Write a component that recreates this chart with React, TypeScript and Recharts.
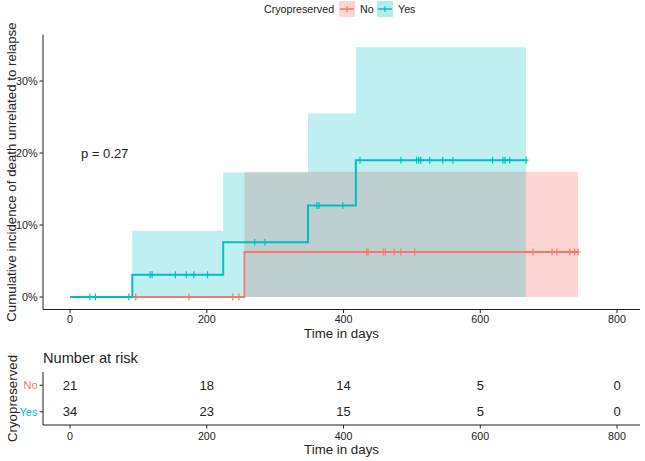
import React from "react";
import {
  ComposedChart,
  ScatterChart,
  Line,
  Area,
  Scatter,
  XAxis,
  YAxis,
  Legend,
  ReferenceDot,
} from "recharts";

// ---------- data ----------
const xTicks = [0, 200, 400, 600, 800];
const yTicks = [0, 10, 20, 30];
const groups = ["No", "Yes"];

// cumulative incidence (%) step functions
const yesDays = [0, 91, 224, 348, 418, 667];
const yesInc = [0, 3.1, 7.6, 12.7, 19.0, 19.0];
const yesUpper = [0, 9.2, 17.3, 25.5, 34.7, 34.7];

const noDays = [0, 255, 743];
const noInc = [0, 6.25, 6.25];
const noUpper = [0, 17.4, 17.4];

// censoring times (days)
const yesCensorDays = [
  29, 37, 86, 117, 120, 154, 170, 181, 201, 270, 285, 361, 364, 399, 424, 484,
  507, 510, 513, 526, 545, 560, 618, 633, 636, 643, 667,
];
const noCensorDays = [
  96, 174, 238, 247, 434, 436, 458, 461, 474, 484, 504, 677, 705, 712, 731,
  738, 743,
];

// number at risk
const riskDays = [0, 200, 400, 600, 800];
const noRisk = [21, 18, 14, 5, 0];
const yesRisk = [34, 23, 15, 5, 0];

const pValueText = "p = 0.27";
const pValuePos = { t: 16, v: 20 };

// ---------- style ----------
const RED = "#F8766D";
const TEAL = "#00BFC4";
const INK = "#222222";
const FONT = "'Liberation Sans', Arial, Helvetica, sans-serif";
const X_DOMAIN: [number, number] = [-39.6, 833.6];
const Y_DOMAIN: [number, number] = [-1.74, 36.45];
const groupColor: Record<string, string> = { No: RED, Yes: TEAL };

function toSteps(days: number[], inc: number[], upper: number[]) {
  return days.map((t, i) => ({ t, v: inc[i], band: [0, upper[i]] }));
}
function levelAt(days: number[], inc: number[], t: number) {
  let v = inc[0];
  for (let i = 0; i < days.length; i++) if (days[i] <= t) v = inc[i];
  return v;
}
function toCensor(cd: number[], days: number[], inc: number[]) {
  return cd.map((t) => ({ t, v: levelAt(days, inc, t) }));
}

const plusShape = (color: string) => (p: any) => {
  if (p.cx == null || p.cy == null) return <g />;
  return (
    <g>
      <line x1={p.cx} x2={p.cx} y1={p.cy - 3.5} y2={p.cy + 3.5} stroke={color} strokeWidth={1.2} />
      <line x1={p.cx - 2.5} x2={p.cx + 2.5} y1={p.cy} y2={p.cy} stroke={color} strokeWidth={1.2} />
    </g>
  );
};

const LegendKey = ({ color }: { color: string }) => (
  <svg width={16} height={16} style={{ display: "block" }}>
    <rect x={0} y={0} width={16} height={16} fill={color} fillOpacity={0.3} />
    <line x1={1} x2={15} y1={8} y2={8} stroke={color} strokeWidth={1.5} />
    <line x1={8} x2={8} y1={5} y2={11} stroke={color} strokeWidth={1.2} />
  </svg>
);

const renderLegend = () => (
  <div style={{ position: "relative", width: 645, height: 18, fontFamily: FONT, fontSize: 10.7, color: INK }}>
    <span style={{ position: "absolute", left: 264, top: 1, lineHeight: "16px" }}>Cryopreserved</span>
    <div style={{ position: "absolute", left: 339, top: 1 }}>
      <LegendKey color={RED} />
    </div>
    <span style={{ position: "absolute", left: 360, top: 1, lineHeight: "16px" }}>No</span>
    <div style={{ position: "absolute", left: 377, top: 1 }}>
      <LegendKey color={TEAL} />
    </div>
    <span style={{ position: "absolute", left: 398, top: 1, lineHeight: "16px" }}>Yes</span>
  </div>
);

const yLabel = (text: string) => (props: any) => {
  const vb = props.viewBox || {};
  const cy = (vb.y ?? 0) + (vb.height ?? 0) / 2;
  const cx = 12;
  return (
    <text
      x={cx}
      y={cy}
      transform={`rotate(-90, ${cx}, ${cy})`}
      textAnchor="middle"
      dominantBaseline="central"
      fontSize={13.3}
      fontFamily={FONT}
      fill={INK}
    >
      {text}
    </text>
  );
};

const xLabel = (text: string, dy: number) => (props: any) => {
  const vb = props.viewBox || {};
  const cx = (vb.x ?? 0) + (vb.width ?? 0) / 2;
  const cy = (vb.y ?? 0) + dy;
  return (
    <text x={cx} y={cy} textAnchor="middle" dominantBaseline="central" fontSize={13.3} fontFamily={FONT} fill={INK}>
      {text}
    </text>
  );
};

const tickStyle = { fill: INK, fontSize: 10.7, fontFamily: FONT };

export default function App() {
  const yesSteps = toSteps(yesDays, yesInc, yesUpper);
  const noSteps = toSteps(noDays, noInc, noUpper);
  const yesCensor = toCensor(yesCensorDays, yesDays, yesInc);
  const noCensor = toCensor(noCensorDays, noDays, noInc);
  const noRiskData = noRisk.map((n, i) => ({ t: riskDays[i], group: groups[0], n }));
  const yesRiskData = yesRisk.map((n, i) => ({ t: riskDays[i], group: groups[1], n }));

  const riskText = (p: any) => {
    if (p.cx == null || p.cy == null) return <g />;
    return (
      <text x={p.cx} y={p.cy} textAnchor="middle" dominantBaseline="central" fontSize={13} fontFamily={FONT} fill={INK}>
        {p.payload.n}
      </text>
    );
  };

  const groupTick = (p: any) => (
    <text
      x={p.x}
      y={p.y}
      textAnchor="end"
      dominantBaseline="central"
      fontSize={11}
      fontFamily={FONT}
      fill={groupColor[p.payload.value] || INK}
    >
      {p.payload.value}
    </text>
  );

  return (
    <div style={{ position: "absolute", left: 0, top: 0, width: 645, height: 461, background: "#fff", fontFamily: FONT }}>
      <ComposedChart width={645} height={345} margin={{ top: 16.6, right: 5, bottom: 0, left: 13 }}>
        <Legend verticalAlign="top" content={renderLegend} wrapperStyle={{ top: 0, left: 0, width: 645, height: 18 }} />
        <XAxis
          type="number"
          dataKey="t"
          domain={X_DOMAIN}
          ticks={xTicks}
          allowDataOverflow
          height={35.5}
          tickSize={3.5}
          tickMargin={2.2}
          stroke={INK}
          tick={tickStyle}
          label={xLabel("Time in days", 23.5)}
        />
        <YAxis
          type="number"
          dataKey="v"
          domain={Y_DOMAIN}
          ticks={yTicks}
          allowDataOverflow
          width={30}
          tickSize={3.5}
          tickMargin={2}
          stroke={INK}
          tick={tickStyle}
          tickFormatter={(v: number) => `${v}%`}
          label={yLabel("Cumulative incidence of death unrelated to relapse")}
        />
        <Area data={noSteps} dataKey="band" type="stepAfter" stroke="none" fill={RED} fillOpacity={0.3} isAnimationActive={false} />
        <Area data={yesSteps} dataKey="band" type="stepAfter" stroke="none" fill={TEAL} fillOpacity={0.25} isAnimationActive={false} />
        <Line data={noSteps} dataKey="v" type="stepAfter" stroke={RED} strokeWidth={1.8} dot={false} activeDot={false} isAnimationActive={false} />
        <Line data={yesSteps} dataKey="v" type="stepAfter" stroke={TEAL} strokeWidth={2} dot={false} activeDot={false} isAnimationActive={false} />
        <Scatter data={noCensor} dataKey="v" shape={plusShape(RED)} isAnimationActive={false} />
        <Scatter data={yesCensor} dataKey="v" shape={plusShape(TEAL)} isAnimationActive={false} />
        <ReferenceDot
          x={pValuePos.t}
          y={pValuePos.v}
          r={0}
          ifOverflow="visible"
          shape={(p: any) => (
            <text x={p.cx} y={p.cy} dominantBaseline="central" fontSize={13} fontFamily={FONT} fill={INK}>
              {pValueText}
            </text>
          )}
        />
      </ComposedChart>

      <div
        style={{
          position: "absolute",
          left: 43,
          top: 349,
          fontSize: 14.6,
          lineHeight: "18px",
          fontFamily: FONT,
          color: INK,
          whiteSpace: "nowrap",
        }}
      >
        Number at risk
      </div>

      <div style={{ position: "absolute", left: 0, top: 345 }}>
        <ScatterChart width={645} height={116} margin={{ top: 27, right: 5, bottom: 0, left: 13 }}>
          <XAxis
            type="number"
            dataKey="t"
            domain={X_DOMAIN}
            ticks={xTicks}
            allowDataOverflow
            height={36}
            tickSize={3.5}
            tickMargin={4}
            stroke={INK}
            tick={tickStyle}
            label={xLabel("Time in days", 24)}
          />
          <YAxis
            type="category"
            dataKey="group"
            allowDuplicatedCategory={false}
            reversed
            width={30}
            tickSize={3.5}
            tickMargin={2}
            stroke={INK}
            tick={groupTick}
            label={yLabel("Cryopreserved")}
          />
          <Scatter data={noRiskData} shape={riskText} isAnimationActive={false} />
          <Scatter data={yesRiskData} shape={riskText} isAnimationActive={false} />
        </ScatterChart>
      </div>
    </div>
  );
}
